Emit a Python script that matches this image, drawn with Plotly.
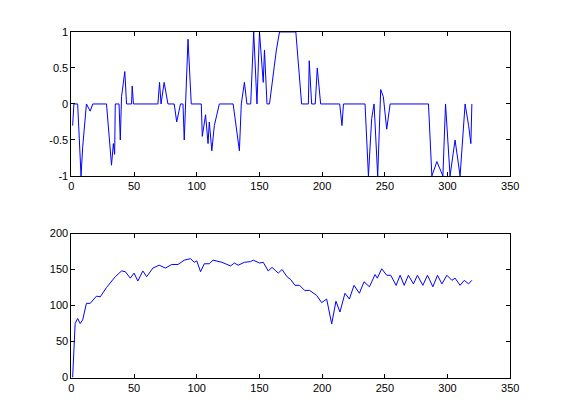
import plotly.graph_objects as go

top_x = [1,2,5,7.7,9,12,15,17,28,32,33.5,34.5,35,38,39,40,42.6,44,48,48.5,49.5,69,70.3,71.5,74,77,82,84,87,89,90,93,95.6,103.6,104.4,107,109,110,112,114,116,118,129,134,135.5,138,140,143,145.4,148,150,153,154,156,158,163.5,166,179,183.6,189,189.7,191.6,194.5,196.1,198.8,214,215.8,217,234.2,236.9,239.5,241.4,244.3,246.7,248.8,251.5,254.2,284.8,287.5,291.5,296.3,298.4,302,306,310,314,316.8,318.6,319.4]
top_y = [-0.3,0,0,-1,-0.6,0,-0.1,0,0,-0.85,-0.55,-0.7,0,0,-0.5,0.1,0.45,0,0,0.25,0,0,0.3,0,0.3,0,0,-0.25,0,0,-0.5,0.9,0,0,-0.45,-0.15,-0.55,-0.25,-0.65,-0.3,-0.15,0,0,-0.65,0,0.3,0,0,1,0,1,0.3,0.75,0,0,0.75,1,1,0,0,0.6,0,0,0.5,0,0,-0.3,0,0,-1,-0.2,0,-1,0.2,0.1,-0.35,0,0,-1,-0.8,-1,0,-1,-0.5,-1,0,-0.3,-0.55,0]

bot_x = [1,2,3,5,7,9,12,15,20,23,28,35,40,43,47,50,53,57,60,65,70,75,80,85,90,95,98,100,103,106,110,113,120,127,130,133,138,143,145,150,153,157,160,165,168,172,175,178.3,182,186,190,195.6,199.6,203.6,207.6,211,214.2,218.2,221.7,225.4,229.7,233.4,237.7,242.2,244,247.5,251.5,254.7,259,262.2,265.4,268.8,272.8,276,280.3,284,288.3,292,295.5,299.5,303.5,306,310,313.3,316.8,319.4]
bot_y = [0,50,75,82,75,80,103,103,113,112,125,140,148,147,138,145,134,148,140,152,156,152,157,157,163,165,160,162,147,158,158,163,160,155,159,156,160,161,163,159,160,148,153,145,150,140,136,128,128,121,121,114,104,109,74.5,106,91,117,109,128,117,133,126,143,138,151,142,142,128,142,128,142,130,142,128,142,126,142,130,142,135,138,128,135,130,135]

x_ticks = [0,50,100,150,200,250,300,350]

fig = go.Figure()
fig.add_trace(go.Scatter(x=top_x, y=top_y, mode="lines", line=dict(color="#0000ff", width=1), xaxis="x", yaxis="y"))
fig.add_trace(go.Scatter(x=bot_x, y=bot_y, mode="lines", line=dict(color="#0000ff", width=1), xaxis="x2", yaxis="y2"))

ax = dict(showgrid=False, zeroline=False, showline=True, linecolor="black", linewidth=1, mirror="ticks",
          ticks="inside", ticklen=4, tickcolor="black", tickfont=dict(family="Liberation Sans, Arial", size=11, color="black"))
fig.update_layout(
    width=562, height=420, margin=dict(l=0, r=0, t=0, b=0),
    paper_bgcolor="white", plot_bgcolor="white", showlegend=False,
    xaxis=dict(ax, domain=[0.1098, 0.9077], range=[0, 350], tickvals=x_ticks, anchor="y"),
    yaxis=dict(ax, domain=[0.603, 0.956], range=[-1, 1], tickvals=[-1,-0.5,0,0.5,1], ticktext=["-1","-0.5","0","0.5","1"], anchor="x"),
    xaxis2=dict(ax, domain=[0.1098, 0.9077], range=[0, 350], tickvals=x_ticks, anchor="y2"),
    yaxis2=dict(ax, domain=[0.109, 0.462], range=[0, 200], tickvals=[0,50,100,150,200], anchor="x2"),
)
fig.write_html("out.html")
